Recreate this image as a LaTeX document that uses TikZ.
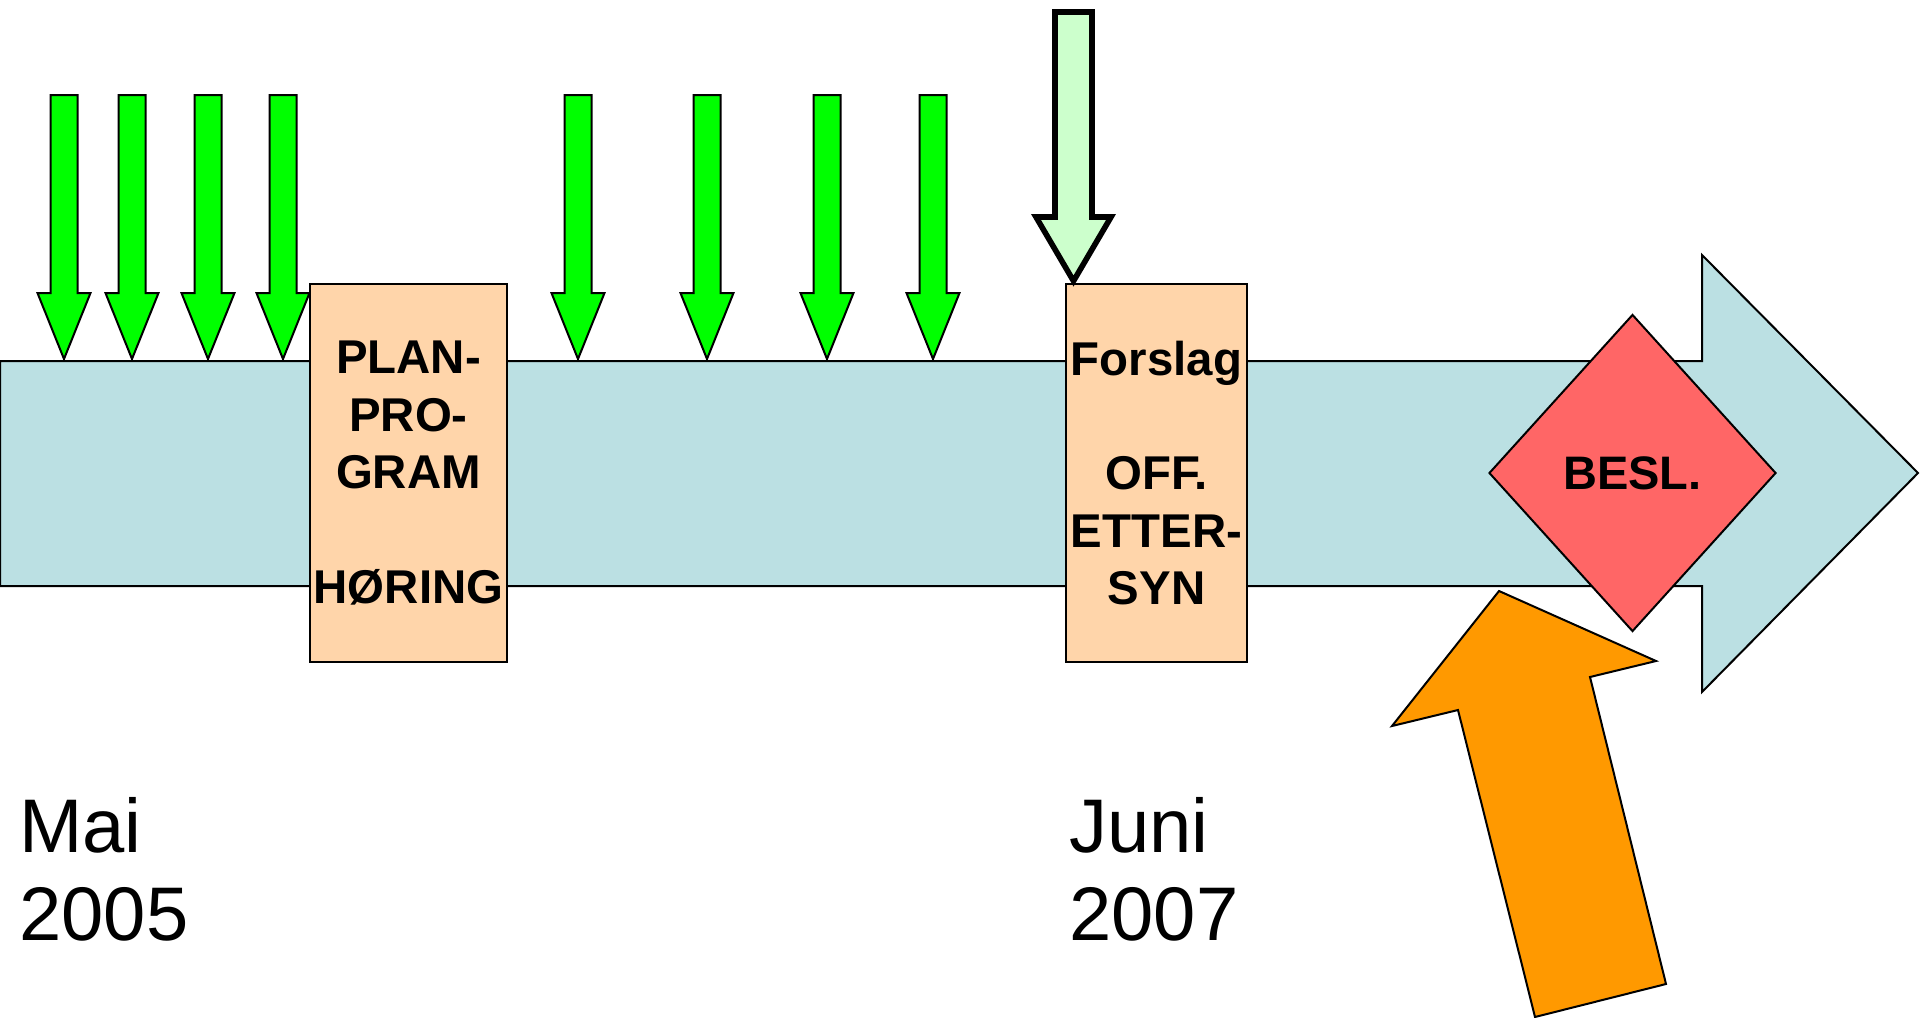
\documentclass[tikz,border=0pt]{standalone}
\usepackage{fontspec}
\setmainfont{Liberation Sans}
\usetikzlibrary{shapes.geometric}
\definecolor{barblue}{RGB}{187,224,227}
\definecolor{peach}{RGB}{255,213,170}
\definecolor{arrowgreen}{RGB}{0,255,0}
\definecolor{palegreen}{RGB}{204,255,204}
\definecolor{beslred}{RGB}{255,102,102}
\definecolor{orangearrow}{RGB}{255,153,0}
\begin{document}
\begin{tikzpicture}[x=0.5pt,y=-0.5pt,line join=miter,
  ol/.style={draw=black,line width=1pt},
  garrow/.style={ol,fill=arrowgreen},
  stagebox/.style={ol,fill=peach,rectangle,inner sep=0pt,minimum height=189pt,
    align=center,font=\fontsize{23.7}{28.65}\selectfont\bfseries},
  datelabel/.style={anchor=north west,inner sep=0pt,align=left,
    font=\fontsize{38}{44}\selectfont}]
\useasboundingbox (0,0) rectangle (1920,1017);

% timeline bar (big arrow)
\path[ol,fill=barblue] (0,361) -- (1702,361) -- (1702,255) -- (1918,473)
  -- (1702,692) -- (1702,586) -- (0,586) -- cycle;

% green input arrows
\foreach \cx in {64,132,208,283,578,707,827,933}{
  \path[garrow] (\cx-13.5,95) -- (\cx+13.5,95) -- (\cx+13.5,293) -- (\cx+26.5,293)
    -- (\cx,359) -- (\cx-26.5,293) -- (\cx-13.5,293) -- cycle;
}

% stage boxes
\node[stagebox,minimum width=98.5pt] (plan) at (408.5,473)
  {PLAN-\\PRO-\\GRAM\\[28.65pt]HØRING};
\node[stagebox,minimum width=90.5pt] (forslag) at (1156.5,473)
  {Forslag\\[28.65pt]OFF.\\ETTER-\\SYN};

% pale green arrow onto Forslag
\path[draw=black,line width=2.8pt,fill=palegreen] (1055,12) -- (1092,12) -- (1092,217)
  -- (1111,217) -- (1073.5,281) -- (1036,217) -- (1055,217) -- cycle;

% decision diamond
\node[diamond,ol,fill=beslred,inner sep=0pt,minimum width=143.5pt,minimum height=158.5pt,
  font=\fontsize{23.5}{28}\selectfont\bfseries] (besl) at (1632.5,473) {\raisebox{-2pt}{BESL.}};

% orange arrow
\path[ol,fill=orangearrow] (1499,591) -- (1656,661) -- (1590,677) -- (1666,984)
  -- (1535,1017) -- (1458,710) -- (1392,726) -- cycle;

% dates
\node[datelabel] (mai) at (19,797) {Mai\\2005};
\node[datelabel] (juni) at (1069,797) {Juni\\2007};
\end{tikzpicture}
\end{document}
